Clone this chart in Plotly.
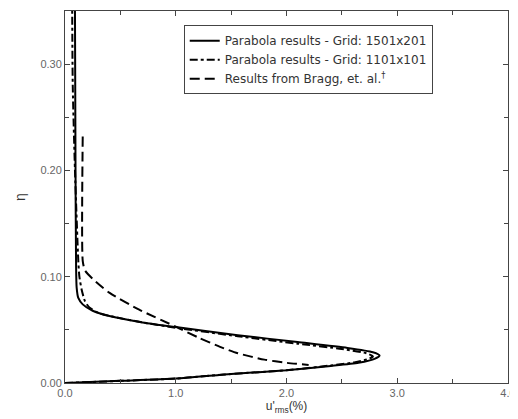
import plotly.graph_objects as go

# Parabola results - Grid: 1501x201
fine_u = [0, 0.5, 1.0, 1.5, 2.0, 2.4, 2.65, 2.8, 2.84, 2.78, 2.55, 2.1, 1.56, 1.0, 0.7, 0.4, 0.25, 0.16, 0.12, 0.105, 0.10, 0.095, 0.09]
fine_eta = [0, 0.002, 0.0042, 0.0085, 0.012, 0.016, 0.019, 0.023, 0.026, 0.029, 0.033, 0.0385, 0.045, 0.0526, 0.057, 0.063, 0.068, 0.074, 0.08, 0.09, 0.11, 0.2, 0.35]

# Parabola results - Grid: 1101x101
coarse_u = [0, 0.5, 1.0, 1.5, 2.0, 2.4, 2.62, 2.75, 2.78, 2.72, 2.5, 2.1, 1.56, 1.0, 0.7, 0.45, 0.3, 0.22, 0.18, 0.15, 0.13, 0.12, 0.09, 0.07, 0.065]
coarse_eta = [0, 0.002, 0.0042, 0.0085, 0.012, 0.0165, 0.0195, 0.023, 0.025, 0.028, 0.032, 0.037, 0.044, 0.052, 0.057, 0.062, 0.066, 0.071, 0.077, 0.088, 0.1, 0.115, 0.2, 0.28, 0.35]

# Results from Bragg, et. al.
bragg_u = [0.16, 0.16, 0.18, 0.25, 0.40, 0.67, 1.0, 1.2, 1.4, 1.56, 1.8, 2.0, 2.2]
bragg_eta = [0.232, 0.115, 0.106, 0.098, 0.085, 0.069, 0.053, 0.043, 0.034, 0.028, 0.022, 0.019, 0.017]

names = ["Parabola results - Grid: 1501x201",
         "Parabola results - Grid: 1101x101",
         "Results from Bragg, et. al.<sup>†</sup>"]

fig = go.Figure()
fig.add_trace(go.Scatter(x=fine_u, y=fine_eta, mode="lines", name=names[0],
                         line=dict(color="black", width=2, shape="spline", smoothing=0.6)))
fig.add_trace(go.Scatter(x=coarse_u, y=coarse_eta, mode="lines", name=names[1],
                         line=dict(color="black", width=2, dash="8px,3px,3px,3px", shape="spline", smoothing=0.6)))
fig.add_trace(go.Scatter(x=bragg_u, y=bragg_eta, mode="lines", name=names[2],
                         line=dict(color="black", width=2, dash="10px,5px", shape="spline", smoothing=0.6)))

axis_common = dict(showgrid=False, zeroline=False, showline=True, linecolor="#444", linewidth=1,
                   mirror="allticks", ticks="inside", ticklen=5, tickcolor="#444",
                   ticklabeloverflow="allow",
                   tickfont=dict(family="Arial, Liberation Sans", size=11, color="#666"))

fig.update_xaxes(range=[0, 4], dtick=1, tickformat=".1f",
                 minor=dict(dtick=0.5, ticks="inside", ticklen=4, tickcolor="#444"),
                 title=dict(text="u'<sub>rms</sub>(%)", font=dict(family="Arial, Liberation Sans", size=12, color="#333"), standoff=2),
                 **axis_common)
fig.update_yaxes(range=[0, 0.35], dtick=0.1, tickformat=".2f",
                 minor=dict(dtick=0.05, ticks="inside", ticklen=4, tickcolor="#444"),
                 title=dict(text="η", font=dict(family="Arial, Liberation Sans", size=14, color="#333"), standoff=11),
                 **axis_common)

# page body adds an 8px offset; figure sized so plot area lands where the reference has it
fig.update_layout(
    width=510, height=411,
    margin=dict(l=57, r=6, t=2, b=36),
    paper_bgcolor="white", plot_bgcolor="white",
    legend=dict(x=0.268, y=0.962, xanchor="left", yanchor="top",
                bordercolor="#444", borderwidth=1, bgcolor="white",
                font=dict(family="DejaVu Sans", size=12, color="#333"),
                tracegroupgap=0, itemwidth=30),
    showlegend=True,
)

fig.write_html("out.html")
